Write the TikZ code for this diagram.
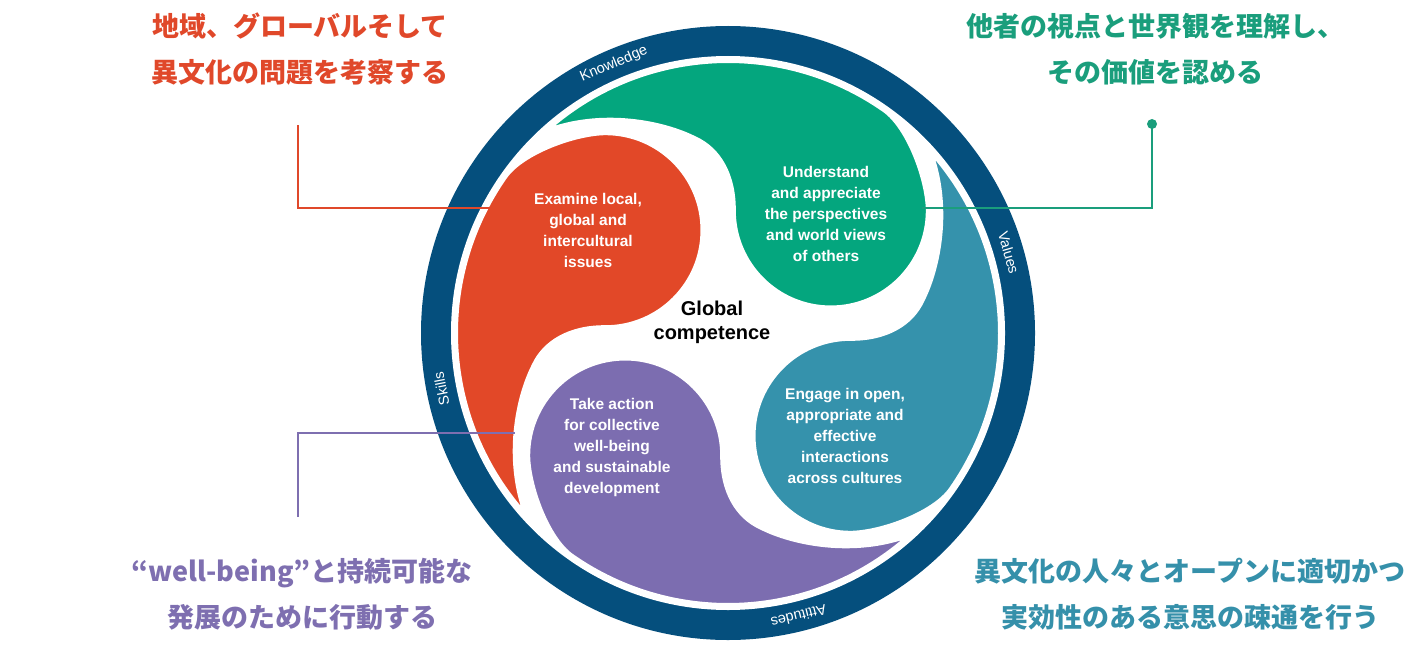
\documentclass[tikz,border=0pt]{standalone}
\usetikzlibrary{calc}
\usepackage{fontspec}
\setmainfont{Liberation Sans}
\newfontfamily\jp{Noto Sans CJK JP}
\definecolor{navy}{HTML}{054F7D}
\definecolor{pred}{HTML}{E24828}
\definecolor{pgreen}{HTML}{04A67E}
\definecolor{pteal}{HTML}{3592AC}
\definecolor{ppurple}{HTML}{7C6DB0}
\definecolor{tred}{HTML}{E0482A}
\definecolor{tgreen}{HTML}{1A9E7C}
\definecolor{tteal}{HTML}{3590AA}
\definecolor{tpurple}{HTML}{7E6FB0}
\begin{document}
\begin{tikzpicture}[x=1pt,y=1pt,
  petal/.style={draw=white,line width=4pt},
  ptext/.style={text=white,font=\bfseries\fontsize{15.5}{21}\selectfont,align=center},
  ring/.style={text=white,font=\fontsize{14.5}{16}\selectfont},
  jlab/.style={font=\jp\bfseries\fontsize{27}{32}\selectfont},
  lead/.style={line width=1.3pt}]
\useasboundingbox (0,-658) rectangle (1420,0);
\coordinate (C) at (728,-333);
\fill[navy] (C) circle[radius=307];
\fill[white] (C) circle[radius=277];
\def\petal{(82:272) arc[start angle=82,end angle=5,radius=272] .. controls (273.6,-6.2) and (245,-55) .. (222.3,-74.3) arc[start angle=-50,end angle=-230,radius=97] .. controls (125,97) and (135,125) .. (128,150) .. controls (120,185) and (90,240) .. cycle}
\foreach \a/\c in {50/pgreen,320/pteal,230/ppurple,140/pred}{
  \begin{scope}[shift={(C)},rotate=\a]
    \fill[\c,petal] \petal;
  \end{scope}}
% ring labels
\node[ring,rotate=23] (kn) at ($(C)+(113:292)$) {Knowledge};
\node[ring,rotate=-74] (va) at ($(C)+(16:292)$) {Values};
\node[ring,rotate=-166] (at) at ($(C)+(-76:292)$) {Attitudes};
\node[ring,rotate=101] (sk) at ($(C)+(191:292)$) {Skills};
% petal texts
\node[ptext] (tr) at (588,-230) {Examine local,\\global and\\intercultural\\issues};
\node[ptext] (tg) at (826,-214) {Understand\\and appreciate\\the perspectives\\and world views\\of others};
\node[ptext] (tt) at (845,-436) {Engage in open,\\appropriate and\\effective\\interactions\\across cultures};
\node[ptext] (tp) at (612,-447) {Take action\\for collective\\well-being\\and sustainable\\development};
\node[font=\bfseries\fontsize{20}{24}\selectfont,align=center] (gc) at (712,-322) {Global\\competence};
% Japanese labels
\node[jlab,text=tred,align=center] (jr) at (300,-49) {地域、グローバルそして\\[14pt]異文化の問題を考察する};
\node[jlab,text=tgreen,align=center] (jg) at (1155,-49) {他者の視点と世界観を理解し、\\[14pt]その価値を認める};
\node[jlab,text=tpurple,align=center] (jp) at (302,-594) {“well-being”と持続可能な\\[14pt]発展のために行動する};
\node[jlab,text=tteal,align=center] (jt) at (1190,-594) {異文化の人々とオープンに適切かつ\\[14pt]実効性のある意思の疎通を行う};
% leaders
\coordinate (r0) at (298,-125); \coordinate (r1) at (298,-208); \coordinate (r2) at (490,-208);
\draw[lead,tred] (r0) -- (r1) -- (r2);
\coordinate (g0) at (1152,-124); \coordinate (g1) at (1152,-208); \coordinate (g2) at (922,-208);
\fill[tgreen] (g0) circle[radius=5];
\draw[lead,tgreen] (g0) -- (g1) -- (g2);
\coordinate (p0) at (298,-517); \coordinate (p1) at (298,-433); \coordinate (p2) at (515,-433);
\draw[lead,tpurple] (p0) -- (p1) -- (p2);
\end{tikzpicture}
\end{document}
